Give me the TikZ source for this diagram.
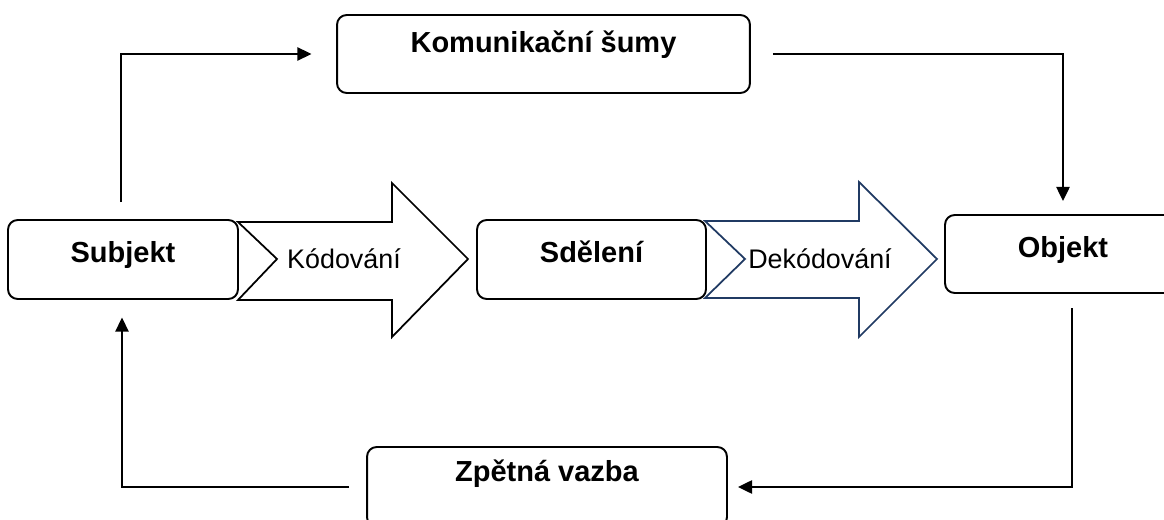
\documentclass[tikz,border=0pt]{standalone}
\usepackage{fontspec}
\setmainfont{Liberation Sans}
\usepackage{tikz}
\usetikzlibrary{arrows.meta, calc}
\definecolor{navyline}{HTML}{203A63}

\begin{document}
\begin{tikzpicture}[
  x=0.02cm, y=-0.02cm,
  box/.style={
    draw, line width=1.1pt, rounded corners=5.5pt, fill=white,
    minimum width=4.6cm, minimum height=1.58cm, inner sep=2pt,
    text height=11.8pt, text depth=8pt,
    font=\fontsize{16.5}{20}\selectfont\bfseries
  },
  label/.style={font=\fontsize{15.3}{18}\selectfont},
  bigarr/.style={line width=1pt, fill=white, line join=miter},
  conn/.style={-{Triangle[length=8pt, width=7.5pt]}, line width=1.1pt}
]
  \useasboundingbox (0,0) rectangle (1164,520);

  \node[box] (subj) at (123,259.5) {Subjekt};
  \node[box, minimum width=4.58cm] (sdel) at (591.5,259.5) {Sdělení};
  \node[box, minimum width=4.72cm, minimum height=1.56cm] (obj) at (1063,254) {Objekt};
  \node[box, minimum width=8.26cm, minimum height=1.56cm, text depth=13.6pt] (kom) at (543.5,54) {Komunikační šumy};
  \node[box, minimum width=7.2cm, minimum height=1.6cm, text depth=18pt] (zpet) at (547,487) {Zpětná vazba};

  \draw[bigarr] (238,222) -- (392,222) -- (392,183) -- (468,259) -- (392,337)
    -- (392,300) -- (238,300) -- (277,259) -- cycle;
  \draw[bigarr, draw=navyline] (705,221) -- (859,221) -- (859,182) -- (937,259) -- (859,337)
    -- (859,298) -- (705,298) -- (745,259) -- cycle;
  \node[label] (kod) at (344,259) {Kódování};
  \node[label] (dekod) at (820,259) {Dekódování};

  \draw[conn, shorten <=9.6pt, shorten >=14pt] ($(subj.north)+(-2,0)$) |- (kom.west);
  \draw[conn, shorten <=12.5pt, shorten >=7.4pt] (kom.east) -| (obj.north);
  \draw[conn, shorten <=8pt, shorten >=5.7pt] ($(obj.south)+(9,0)$) |- (zpet.east);
  \draw[conn, shorten <=9.6pt, shorten >=10pt] (zpet.west) -| ($(subj.south)+(-1,0)$);
\end{tikzpicture}
\end{document}
